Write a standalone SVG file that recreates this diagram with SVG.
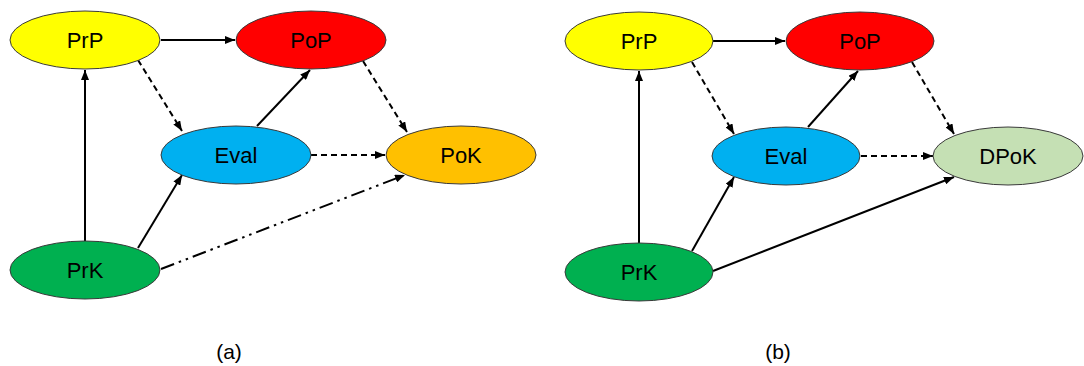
<svg xmlns="http://www.w3.org/2000/svg" width="1084" height="366" viewBox="0 0 1084 366">
<style>
.node{stroke:#3a3a3a;stroke-width:1}
.lbl{font-family:"Liberation Sans",Arial,sans-serif;font-size:22px;fill:#000;text-anchor:middle;dominant-baseline:central}
.cap{font-family:"Liberation Sans",Arial,sans-serif;font-size:21px;fill:#000;text-anchor:middle}
.e{fill:none;stroke:#000;stroke-width:2;marker-end:url(#ah)}
.dash{stroke-dasharray:6 4}
.dd{stroke-dasharray:14 5 2.5 5 2.5 5}
</style>
<defs>
<marker id="ah" markerUnits="userSpaceOnUse" markerWidth="10" markerHeight="8" refX="10" refY="4" orient="auto">
<path d="M0,0 L10,4 L0,8 z" fill="#000"/>
</marker>
</defs>
<g id="connectors">
<line class="e" x1="161" y1="40" x2="235" y2="40"/>
<line class="e dash" x1="138" y1="60" x2="182" y2="131"/>
<line class="e" x1="85" y1="243" x2="85" y2="70"/>
<line class="e" x1="138" y1="248" x2="182" y2="175"/>
<line class="e" x1="257" y1="126" x2="310" y2="70"/>
<line class="e dash" x1="363" y1="61" x2="407" y2="132"/>
<line class="e dash" x1="311" y1="155" x2="385" y2="155"/>
<line class="e dd" x1="161" y1="269" x2="405" y2="175"/>

<line class="e" x1="713" y1="41" x2="785" y2="41"/>
<line class="e dash" x1="692" y1="62" x2="734" y2="134"/>
<line class="e" x1="639" y1="245" x2="639" y2="71"/>
<line class="e" x1="692" y1="251" x2="734" y2="177"/>
<line class="e" x1="808" y1="127" x2="858" y2="71"/>
<line class="e dash" x1="912" y1="62" x2="954" y2="134"/>
<line class="e dash" x1="861" y1="156" x2="933" y2="156"/>
<line class="e" x1="713" y1="271" x2="954" y2="177"/>
</g>
<g id="a-PrP"><ellipse class="node" cx="85" cy="40" rx="75" ry="29" fill="#FFFF00"/><text class="lbl" x="85" y="40">PrP</text></g>
<g id="a-PoP"><ellipse class="node" cx="311" cy="40" rx="75" ry="29" fill="#FF0000"/><text class="lbl" x="311" y="40">PoP</text></g>
<g id="a-Eval"><ellipse class="node" cx="236" cy="155" rx="75" ry="29" fill="#00B0F0"/><text class="lbl" x="236" y="155">Eval</text></g>
<g id="a-PoK"><ellipse class="node" cx="461" cy="155" rx="75" ry="29" fill="#FFC000"/><text class="lbl" x="461" y="155">PoK</text></g>
<g id="a-PrK"><ellipse class="node" cx="85" cy="270" rx="75" ry="29" fill="#00B050"/><text class="lbl" x="85" y="270">PrK</text></g>

<g id="b-PrP"><ellipse class="node" cx="639" cy="41" rx="74" ry="29" fill="#FFFF00"/><text class="lbl" x="639" y="41">PrP</text></g>
<g id="b-PoP"><ellipse class="node" cx="860" cy="41" rx="74" ry="29" fill="#FF0000"/><text class="lbl" x="860" y="41">PoP</text></g>
<g id="b-Eval"><ellipse class="node" cx="786" cy="156" rx="74" ry="29" fill="#00B0F0"/><text class="lbl" x="786" y="156">Eval</text></g>
<g id="b-DPoK"><ellipse class="node" cx="1008" cy="156" rx="75" ry="29" fill="#C5E0B4"/><text class="lbl" x="1008" y="156">DPoK</text></g>
<g id="b-PrK"><ellipse class="node" cx="639" cy="272" rx="74" ry="29" fill="#00B050"/><text class="lbl" x="639" y="272">PrK</text></g>

<text class="cap" x="229" y="359">(a)</text>
<text class="cap" x="778" y="359">(b)</text>
</svg>
